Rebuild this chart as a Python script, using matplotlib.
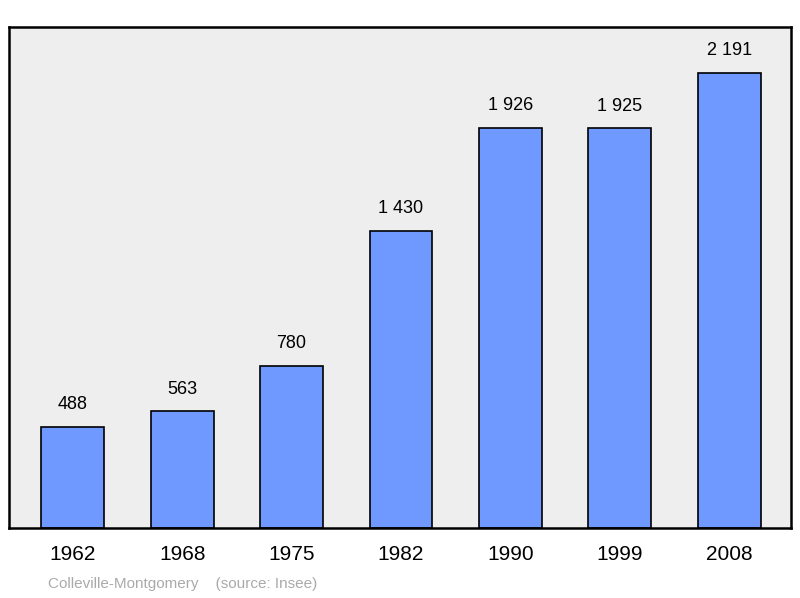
import matplotlib.pyplot as plt

plt.rcParams['font.family'] = ['Liberation Sans', 'DejaVu Sans']

years = ["1962", "1968", "1975", "1982", "1990", "1999", "2008"]
population = [488, 563, 780, 1430, 1926, 1925, 2191]
value_labels = ["488", "563", "780", "1 430", "1 926", "1 925", "2 191"]

fig = plt.figure(figsize=(8, 5.98), dpi=100)
ax = fig.add_axes([9 / 800, 1 - 528 / 598, 782 / 800, 501 / 598])
ax.set_facecolor("#eeeeee")

pos = range(len(years))
ax.bar(pos, population, width=0.575, color="#7099ff", edgecolor="black", linewidth=1.2)

for x, v, lab in zip(pos, population, value_labels):
    ax.text(x, v + 65, lab, ha="center", va="bottom", fontsize=13)

ax.set_xlim(-0.584, 6.566)
ax.set_ylim(0, 2412)
ax.set_yticks([])
ax.set_xticks(list(pos))
ax.set_xticklabels(years, fontsize=15)
ax.tick_params(axis="x", length=0, pad=12)
for s in ax.spines.values():
    s.set_linewidth(1.8)

fig.text(48 / 800, 1 - 584 / 598, "Colleville-Montgomery    (source: Insee)",
         color="#aaaaaa", fontsize=11, va="center")

fig.savefig("out.png", dpi=100)
